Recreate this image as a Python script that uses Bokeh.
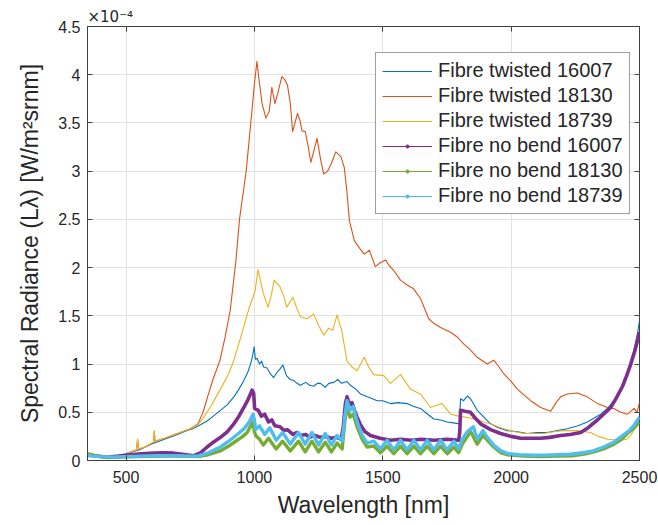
from bokeh.plotting import figure
from bokeh.models import (FixedTicker, NumeralTickFormatter, LinearAxis, Legend,
                          LegendItem, Range1d, ColumnDataSource)
from bokeh.embed import file_html
from bokeh.resources import INLINE

# ---------------- data (radiance in units of 1e-4 W/m^2 sr nm) ----------------
wl_t16007 = [350, 380, 420, 450, 480, 500, 550, 600, 650, 700, 738, 760, 790, 816, 840,
             868, 895, 920, 940, 959, 975, 985, 993, 999, 1004, 1010, 1020, 1028, 1036, 1049,
             1062, 1075, 1090, 1100, 1111, 1125, 1140, 1153, 1166, 1179, 1200, 1215, 1231, 1245, 1257,
             1276, 1290, 1309, 1325, 1340, 1360, 1374, 1395, 1413, 1440, 1460, 1478, 1500, 1530, 1560,
             1595, 1620, 1647, 1670, 1699, 1725, 1751, 1775, 1798, 1803, 1815, 1830, 1842, 1855, 1868,
             1890, 1920, 1950, 1985, 2020, 2063, 2100, 2141, 2180, 2219, 2260, 2297, 2330, 2349, 2375,
             2401, 2420, 2440, 2455, 2466, 2478, 2486, 2493, 2500]
t16007 = [0.06, 0.05, 0.04, 0.035, 0.05, 0.07, 0.11, 0.17, 0.22, 0.27, 0.31, 0.33, 0.37, 0.41, 0.46,
          0.52, 0.58, 0.66, 0.74, 0.83, 0.92, 1.00, 1.08, 1.18, 1.05, 1.06, 1.00, 1.03, 0.97, 0.96,
          0.90, 0.86, 0.92, 0.95, 0.99, 0.88, 0.84, 0.83, 0.80, 0.78, 0.81, 0.78, 0.77, 0.80, 0.80,
          0.76, 0.80, 0.81, 0.84, 0.80, 0.82, 0.78, 0.74, 0.69, 0.66, 0.64, 0.62, 0.62, 0.59, 0.60,
          0.59, 0.56, 0.54, 0.49, 0.43, 0.42, 0.40, 0.39, 0.38, 0.64, 0.62, 0.67, 0.64, 0.58, 0.52,
          0.46, 0.38, 0.34, 0.31, 0.30, 0.28, 0.29, 0.29, 0.31, 0.33, 0.36, 0.40, 0.45, 0.48, 0.54,
          0.62, 0.70, 0.80, 0.92, 1.04, 1.14, 1.24, 1.33, 1.45]

wl_t18130 = [350, 380, 420, 450, 480, 500, 530, 541, 545, 549, 575, 600, 607, 610, 613,
             650, 700, 750, 780, 800, 820, 840, 866, 886, 906, 928, 942, 968, 986, 1000,
             1010, 1018, 1030, 1045, 1058, 1068, 1080, 1095, 1107, 1118, 1129, 1140, 1149, 1168, 1178,
             1185, 1198, 1210, 1220, 1244, 1258, 1270, 1285, 1300, 1317, 1337, 1350, 1360, 1370, 1389,
             1410, 1428, 1448, 1471, 1490, 1511, 1525, 1543, 1569, 1595, 1620, 1647, 1679, 1700, 1725,
             1764, 1790, 1815, 1840, 1868, 1907, 1932, 1950, 1971, 2000, 2024, 2050, 2076, 2115, 2154,
             2175, 2193, 2219, 2258, 2297, 2336, 2375, 2400, 2427, 2453, 2470, 2479, 2490, 2500]
t18130 = [0.06, 0.05, 0.04, 0.035, 0.05, 0.07, 0.10, 0.11, 0.22, 0.12, 0.14, 0.18, 0.19, 0.30, 0.20,
          0.23, 0.28, 0.33, 0.38, 0.50, 0.68, 0.85, 1.04, 1.28, 1.56, 2.07, 2.50, 3.00, 3.50, 3.90,
          4.14, 3.95, 3.70, 3.55, 3.62, 3.87, 3.70, 3.85, 3.98, 3.95, 3.89, 3.70, 3.41, 3.60, 3.52,
          3.42, 3.41, 3.25, 3.09, 3.34, 3.12, 2.97, 3.00, 3.08, 3.20, 3.15, 3.04, 2.80, 2.49, 2.28,
          2.20, 2.14, 2.18, 2.01, 2.05, 2.08, 2.02, 1.97, 1.87, 1.82, 1.78, 1.68, 1.47, 1.42, 1.38,
          1.33, 1.28, 1.21, 1.15, 1.07, 1.00, 1.04, 0.98, 0.90, 0.82, 0.74, 0.68, 0.62, 0.55, 0.51,
          0.60, 0.66, 0.69, 0.70, 0.66, 0.59, 0.55, 0.54, 0.50, 0.48, 0.52, 0.54, 0.50, 0.60]

wl_t18739 = [350, 380, 420, 450, 480, 500, 530, 541, 545, 549, 575, 600, 607, 610, 613,
             650, 700, 750, 780, 803, 830, 868, 900, 920, 944, 977, 1003, 1014, 1025, 1035,
             1053, 1065, 1077, 1100, 1115, 1126, 1150, 1165, 1179, 1205, 1231, 1250, 1270, 1289, 1305,
             1322, 1340, 1361, 1380, 1400, 1428, 1445, 1465, 1504, 1530, 1569, 1608, 1647, 1686, 1731,
             1764, 1796, 1840, 1881, 1930, 1971, 2010, 2049, 2090, 2127, 2170, 2205, 2260, 2309, 2340,
             2375, 2427, 2450, 2466, 2485, 2500]
t18739 = [0.06, 0.05, 0.04, 0.035, 0.05, 0.07, 0.10, 0.11, 0.22, 0.12, 0.14, 0.18, 0.19, 0.31, 0.20,
          0.23, 0.28, 0.33, 0.37, 0.45, 0.56, 0.74, 0.90, 1.04, 1.25, 1.56, 1.76, 1.98, 1.85, 1.73,
          1.59, 1.70, 1.87, 1.80, 1.70, 1.59, 1.69, 1.58, 1.49, 1.47, 1.52, 1.40, 1.30, 1.37, 1.35,
          1.51, 1.35, 1.03, 0.97, 0.93, 1.07, 0.97, 0.89, 0.88, 0.80, 0.89, 0.74, 0.69, 0.55, 0.59,
          0.48, 0.46, 0.44, 0.41, 0.37, 0.33, 0.30, 0.28, 0.28, 0.28, 0.30, 0.31, 0.31, 0.29, 0.25,
          0.22, 0.21, 0.22, 0.26, 0.35, 0.45]

wl_n16007 = [350, 380, 426, 470, 517, 560, 608, 650, 686, 720, 764, 790, 816, 840, 868,
             895, 920, 940, 959, 975, 991, 997, 1001, 1015, 1027, 1040, 1055, 1068, 1080, 1100,
             1115, 1128, 1150, 1165, 1179, 1200, 1215, 1235, 1257, 1280, 1300, 1320, 1338, 1346, 1355,
             1361, 1370, 1380, 1390, 1400, 1413, 1430, 1452, 1490, 1530, 1570, 1610, 1650, 1700, 1750,
             1796, 1800, 1803, 1820, 1842, 1860, 1881, 1920, 1959, 2000, 2037, 2080, 2115, 2150, 2193,
             2230, 2271, 2300, 2336, 2360, 2388, 2410, 2434, 2450, 2466, 2480, 2492, 2500]
n16007 = [0.06, 0.05, 0.034, 0.045, 0.06, 0.07, 0.076, 0.08, 0.076, 0.065, 0.05, 0.08, 0.14, 0.19, 0.24,
          0.30, 0.38, 0.46, 0.55, 0.63, 0.73, 0.70, 0.54, 0.52, 0.46, 0.48, 0.40, 0.42, 0.36, 0.35,
          0.31, 0.32, 0.27, 0.29, 0.26, 0.27, 0.24, 0.26, 0.24, 0.25, 0.23, 0.24, 0.22, 0.35, 0.60,
          0.66, 0.58, 0.60, 0.52, 0.45, 0.37, 0.30, 0.26, 0.23, 0.21, 0.22, 0.21, 0.22, 0.21, 0.22,
          0.21, 0.30, 0.52, 0.51, 0.50, 0.44, 0.38, 0.32, 0.28, 0.25, 0.23, 0.23, 0.23, 0.24, 0.26,
          0.27, 0.29, 0.34, 0.42, 0.48, 0.55, 0.65, 0.77, 0.88, 1.00, 1.12, 1.24, 1.33]

wl_n18130 = [350, 380, 426, 480, 550, 650, 720, 779, 820, 868, 900, 933, 955, 972, 994,
             1000, 1005, 1020, 1035, 1055, 1085, 1110, 1140, 1172, 1198, 1224, 1250, 1276, 1300, 1322,
             1342, 1352, 1361, 1372, 1385, 1400, 1420, 1439, 1465, 1491, 1517, 1543, 1569, 1595, 1621,
             1647, 1673, 1699, 1725, 1751, 1777, 1795, 1810, 1842, 1868, 1890, 1932, 1960, 1985, 2050,
             2115, 2180, 2245, 2290, 2323, 2360, 2401, 2430, 2453, 2480, 2500]
n18130 = [0.07, 0.05, 0.03, 0.035, 0.04, 0.045, 0.045, 0.04, 0.06, 0.10, 0.15, 0.21, 0.25, 0.29, 0.40,
          0.30, 0.26, 0.22, 0.16, 0.23, 0.12, 0.20, 0.10, 0.20, 0.09, 0.20, 0.09, 0.19, 0.09, 0.18,
          0.12, 0.40, 0.58, 0.45, 0.48, 0.35, 0.22, 0.14, 0.15, 0.08, 0.15, 0.07, 0.15, 0.07, 0.15,
          0.07, 0.15, 0.07, 0.15, 0.07, 0.14, 0.08, 0.17, 0.30, 0.17, 0.26, 0.14, 0.08, 0.06, 0.045,
          0.04, 0.045, 0.05, 0.07, 0.09, 0.12, 0.17, 0.22, 0.28, 0.34, 0.40]

wl_n18739 = [350, 400, 450, 500, 560, 620, 680, 740, 779, 820, 868, 900, 933, 960, 980,
             995, 1000, 1005, 1020, 1040, 1060, 1085, 1110, 1140, 1172, 1198, 1224, 1250, 1276, 1300,
             1322, 1342, 1352, 1361, 1372, 1385, 1400, 1420, 1439, 1465, 1491, 1517, 1543, 1569, 1595,
             1621, 1647, 1673, 1699, 1725, 1751, 1777, 1795, 1810, 1830, 1853, 1868, 1890, 1907, 1932,
             1960, 1990, 2030, 2080, 2130, 2180, 2230, 2280, 2320, 2360, 2400, 2430, 2460, 2480, 2500]
n18739 = [0.05, 0.04, 0.035, 0.04, 0.045, 0.05, 0.05, 0.045, 0.045, 0.08, 0.14, 0.20, 0.27, 0.33, 0.40,
          0.48, 0.42, 0.32, 0.36, 0.27, 0.34, 0.21, 0.29, 0.17, 0.29, 0.17, 0.29, 0.16, 0.28, 0.16,
          0.26, 0.20, 0.45, 0.62, 0.52, 0.56, 0.40, 0.26, 0.18, 0.20, 0.12, 0.21, 0.11, 0.21, 0.11,
          0.21, 0.11, 0.21, 0.11, 0.21, 0.11, 0.20, 0.12, 0.22, 0.30, 0.35, 0.22, 0.31, 0.24, 0.16,
          0.10, 0.07, 0.06, 0.055, 0.055, 0.06, 0.065, 0.08, 0.10, 0.14, 0.19, 0.25, 0.31, 0.37, 0.45]

labels = ["Fibre twisted 16007", "Fibre twisted 18130", "Fibre twisted 18739",
          "Fibre no bend 16007", "Fibre no bend 18130", "Fibre no bend 18739"]
x_ticks = [500, 1000, 1500, 2000, 2500]
y_ticks = [0, 0.5, 1, 1.5, 2, 2.5, 3, 3.5, 4, 4.5]
exponent_text = "\u00d710\u207b\u2074"

# ---------------- styling ----------------
FONT = "Liberation Sans"
TXT = "#262626"
AX = "#404040"
colors = ["#0072BD", "#D95319", "#EDB120", "#7E2F8E", "#77AC30", "#4DBEEE"]

series = [(wl_t16007, t16007), (wl_t18130, t18130), (wl_t18739, t18739),
          (wl_n16007, n16007), (wl_n18130, n18130), (wl_n18739, n18739)]
for xs, ys in series:
    assert len(xs) == len(ys), (len(xs), len(ys))

p = figure(width=658, height=525, output_backend="svg", toolbar_location=None,
           x_range=Range1d(350, 2500), y_range=Range1d(0, 4.5),
           min_border_left=87, min_border_right=19, min_border_top=26, min_border_bottom=65,
           background_fill_color="white", border_fill_color="white",
           title=exponent_text)

p.title.text_font = "DejaVu Sans"
p.title.text_font_size = "15px"
p.title.text_font_style = "normal"
p.title.text_color = TXT
p.title.align = "left"
p.title.offset = 0
p.title.standoff = 1

p.outline_line_color = AX
p.outline_line_width = 1

for ax in (p.xaxis[0], p.yaxis[0]):
    ax.major_tick_in = 5
    ax.major_tick_out = 0
    ax.minor_tick_line_color = None
    ax.axis_line_color = AX
    ax.major_tick_line_color = AX
    ax.major_label_text_font = FONT
    ax.major_label_text_font_size = "16px"
    ax.major_label_text_color = TXT
    ax.axis_label_text_font = FONT
    ax.axis_label_text_font_size = "23px"
    ax.axis_label_text_font_style = "normal"
    ax.axis_label_text_color = TXT

p.xaxis[0].ticker = FixedTicker(ticks=x_ticks)
p.yaxis[0].ticker = FixedTicker(ticks=y_ticks)
p.yaxis[0].formatter = NumeralTickFormatter(format="0.[0]")
p.xaxis[0].major_label_standoff = 10
p.yaxis[0].major_label_standoff = 7
p.xaxis[0].axis_label_standoff = 6
p.yaxis[0].axis_label_standoff = 12
p.xaxis[0].axis_label = "Wavelength [nm]"
p.yaxis[0].axis_label = "Spectral Radiance (L\u03bb) [W/m\u00b2srnm]"

# inward ticks on the top and right edges of the box (no labels drawn there)
top = LinearAxis(ticker=FixedTicker(ticks=x_ticks), major_label_text_font_size="1px",
                 major_label_text_color=None, major_tick_in=5, major_tick_out=0,
                 minor_tick_line_color=None, axis_line_color=None,
                 major_tick_line_color=AX, major_label_standoff=0)
right = LinearAxis(ticker=FixedTicker(ticks=y_ticks), major_label_text_font_size="1px",
                   major_label_text_color=None, major_tick_in=5, major_tick_out=0,
                   minor_tick_line_color=None, axis_line_color=None,
                   major_tick_line_color=AX, major_label_standoff=0)
p.add_layout(top, "above")
p.add_layout(right, "right")

p.xgrid.ticker = FixedTicker(ticks=x_ticks)
p.ygrid.ticker = FixedTicker(ticks=y_ticks)
p.xgrid.grid_line_color = "#e2e2e2"
p.ygrid.grid_line_color = "#e2e2e2"

widths = [1.1, 1.1, 1.1, 3.6, 3.4, 3.4]
items = []
nan = float("nan")
for i, ((xs, ys), col, lab) in enumerate(zip(series, colors, labels)):
    src = ColumnDataSource(dict(x=xs, y=ys))
    p.line("x", "y", source=src, line_color=col, line_width=widths[i], line_join="round")
    # legend proxies (thin line, plus a dot for the "no bend" series); nothing drawn in the plot
    proxy = ColumnDataSource(dict(x=[nan], y=[nan]))
    rends = [p.line("x", "y", source=proxy, line_color=col, line_width=1.1)]
    if i >= 3:
        rends.append(p.scatter("x", "y", source=proxy, marker="circle", color=col))
    items.append(LegendItem(label=lab, renderers=rends))

legend = Legend(items=items, location=(288, 246), margin=0, padding=6, spacing=2,
                glyph_width=50, glyph_height=8, label_height=21, label_standoff=6,
                label_text_font=FONT, label_text_font_size="20px", label_text_color=TXT,
                border_line_color=AX, border_line_width=1,
                background_fill_color="white", background_fill_alpha=1.0)
p.add_layout(legend)

open("out.html", "w").write(file_html(p, INLINE))
